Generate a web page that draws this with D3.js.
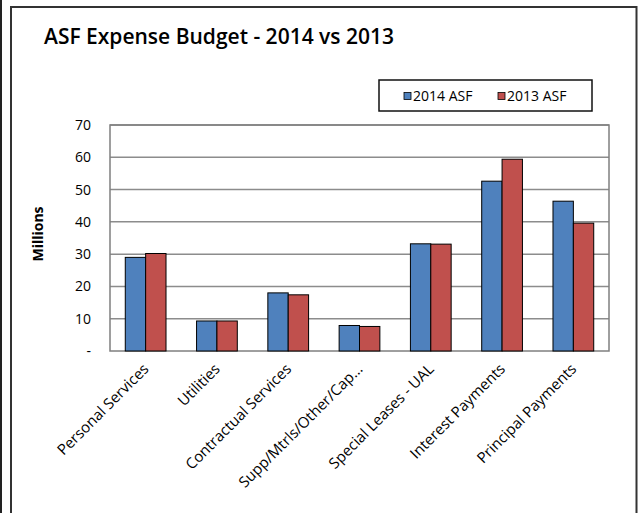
<!DOCTYPE html>
<html>
<head>
<meta charset="utf-8">
<script src="https://cdn.jsdelivr.net/npm/d3@7"></script>
<style>
  body { margin: 0; background: #fff; }
  svg { display: block; font-family: "Open Sans", sans-serif; }
</style>
</head>
<body>
<svg id="canvas" width="642" height="513"></svg>
<script>
// data (millions)
let categories = ['Personal Services', 'Utilities', 'Contractual Services', 'Supp/Mtrls/Other/Cap...',
  'Special Leases - UAL', 'Interest Payments', 'Principal Payments']
let seriesNames = ['2014 ASF', '2013 ASF']
let asf2014 = [29.0, 9.3, 18.0, 7.9, 33.2, 52.6, 46.4]
let asf2013 = [30.2, 9.3, 17.4, 7.6, 33.1, 59.4, 39.6]
let yTicks = [0, 10, 20, 30, 40, 50, 60, 70]
let colors = ['#4f81bd', '#c0504d']

let canvas = d3.select('#canvas')

// outer frame
canvas.append('line').attr('x1', 1).attr('x2', 1).attr('y1', 0).attr('y2', 513)
  .attr('stroke', '#222').attr('stroke-width', 2)
canvas.append('path').attr('d', 'M11,513 V7 H636.5 V513')
  .attr('fill', 'none').attr('stroke', '#333').attr('stroke-width', 2)

canvas.append('text').attr('x', 44).attr('y', 44)
  .attr('font-size', 21).attr('font-weight', 600).attr('fill', '#000')
  .text('ASF Expense Budget - 2014 vs 2013')

let plot = { left: 110, right: 609, top: 125, bottom: 351 }

let x0 = d3.scaleBand().domain(categories).range([plot.left, plot.right]).paddingInner(0).paddingOuter(0)
let bw = x0.bandwidth() / 3.5
let x1 = d3.scaleBand().domain(seriesNames).range([0, bw * 2])
let y = d3.scaleLinear().domain([0, 70]).range([plot.bottom, plot.top])

let g = canvas.append('g')

// gridlines
g.selectAll('.grid').data(yTicks.filter(d => d > 0)).enter().append('line')
  .attr('class', 'grid')
  .attr('x1', plot.left).attr('x2', plot.right)
  .attr('y1', d => y(d)).attr('y2', d => y(d))
  .attr('stroke', '#8c8c8c').attr('stroke-width', 1.5)

// plot border
g.append('rect').attr('x', plot.left).attr('y', plot.top)
  .attr('width', plot.right - plot.left).attr('height', plot.bottom - plot.top)
  .attr('fill', 'none').attr('stroke', '#7f7f7f').attr('stroke-width', 1.5)

// bars
let rows = categories.map((c, i) => ({ cat: c, vals: [asf2014[i], asf2013[i]] }))
let groups = g.selectAll('.cat').data(rows).enter().append('g')
  .attr('transform', d => 'translate(' + (x0(d.cat) + x0.bandwidth() / 2 - bw) + ',0)')
groups.selectAll('rect').data(d => d.vals.map((v, k) => ({ v: v, k: k }))).enter().append('rect')
  .attr('x', d => x1(seriesNames[d.k]))
  .attr('y', d => y(d.v))
  .attr('width', x1.bandwidth())
  .attr('height', d => y(0) - y(d.v))
  .attr('fill', d => colors[d.k])
  .attr('stroke', '#000').attr('stroke-width', 1)

// y axis
let yAxis = d3.axisLeft(y).tickValues(yTicks).tickSize(0).tickPadding(19)
  .tickFormat(d => d === 0 ? '-' : d)
let ya = canvas.append('g').attr('transform', 'translate(' + plot.left + ',0)').call(yAxis)
ya.select('.domain').remove()
ya.selectAll('text').attr('font-size', 14).attr('font-family', '"Open Sans", sans-serif').attr('fill', '#000')

canvas.append('text')
  .attr('transform', 'translate(43,234) rotate(-90)')
  .attr('text-anchor', 'middle').attr('font-size', 14).attr('font-weight', 'bold')
  .text('Millions')

// x axis labels
let xAxis = d3.axisBottom(x0).tickSize(0).tickPadding(0)
let xa = canvas.append('g').attr('transform', 'translate(0,' + plot.bottom + ')').call(xAxis)
xa.select('.domain').remove()
xa.selectAll('text')
  .attr('font-size', 15).attr('font-family', '"Open Sans", sans-serif').attr('fill', '#000')
  .attr('text-anchor', 'end')
  .attr('dy', 0)
  .attr('transform', 'translate(4,19) rotate(-45)')

// legend
let lg = canvas.append('g')
lg.append('rect').attr('x', 379).attr('y', 80).attr('width', 213).attr('height', 31)
  .attr('fill', '#fff').attr('stroke', '#111').attr('stroke-width', 1.5)
let items = lg.selectAll('.item').data(seriesNames).enter().append('g')
  .attr('transform', (d, i) => 'translate(' + (404 + i * 94) + ',96)')
items.append('rect').attr('x', 0).attr('y', -3.5).attr('width', 7).attr('height', 7)
  .attr('fill', (d, i) => colors[i]).attr('stroke', '#000').attr('stroke-width', 0.8)
items.append('text').attr('x', 9).attr('y', 5).attr('font-size', 14).text(d => d)
</script>
</body>
</html>
